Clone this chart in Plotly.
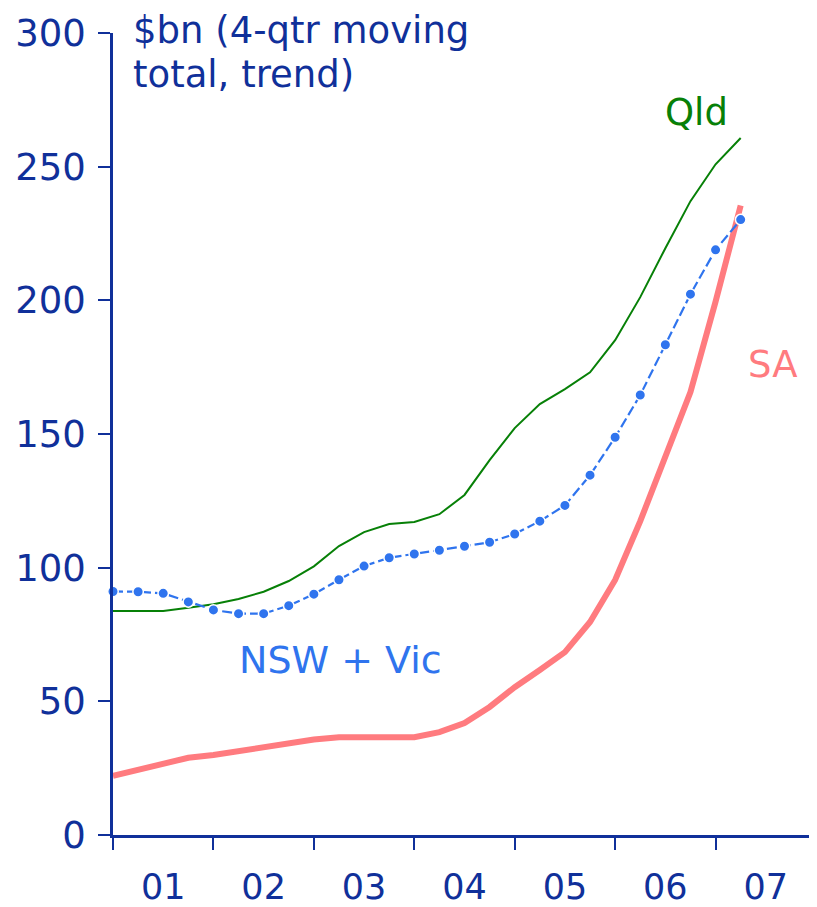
import plotly.graph_objects as go

# quarterly, 2001 Q1 .. 2007 Q2 (x = year + quarter offset)
quarters = [2001 + i * 0.25 for i in range(26)]

nsw_vic = [91.1, 91.0, 90.4, 87.2, 84.2, 82.8, 82.8, 85.8, 90.1, 95.5,
           100.6, 103.7, 105.1, 106.5, 108.0, 109.5, 112.6, 117.4, 123.3, 134.6,
           148.8, 164.6, 183.4, 202.3, 218.9, 230.2]
qld = [83.8, 83.8, 83.8, 85.0, 86.3, 88.3, 91.0, 95.0, 100.5, 108.1,
       113.3, 116.3, 117.1, 120.0, 127.2, 140.2, 152.2, 161.2, 166.8, 173.1,
       185.1, 201.2, 219.5, 237.1, 250.9, 260.7]
sa = [22.1, 24.4, 26.6, 28.9, 29.9, 31.4, 32.9, 34.4, 35.7, 36.6,
      36.6, 36.6, 36.6, 38.5, 41.9, 47.9, 55.3, 61.7, 68.4, 79.7,
      95.4, 117.4, 141.4, 165.7, 199.5, 235.5]

year_labels = ["01", "02", "03", "04", "05", "06", "07"]
year_mids = [2001.5 + i for i in range(7)]
year_edges = [2001 + i for i in range(8)]
y_ticks = [0, 50, 100, 150, 200, 250, 300]

NAVY = "#10309A"
GREEN = "#078007"
BLUE = "#2F74EE"
RED = "#FF7B7F"
FONT = "Verdana, DejaVu Sans, sans-serif"

fig = go.Figure()

fig.add_trace(go.Scatter(
    x=quarters, y=qld, mode="lines", name="Qld",
    line=dict(color=GREEN, width=2), cliponaxis=False,
))
fig.add_trace(go.Scatter(
    x=quarters, y=sa, mode="lines", name="SA",
    line=dict(color=RED, width=6), cliponaxis=False,
))
fig.add_trace(go.Scatter(
    x=quarters, y=nsw_vic, mode="lines+markers", name="NSW + Vic",
    line=dict(color=BLUE, width=2.2, dash="10px,4px"),
    marker=dict(color=BLUE, size=10.5, line=dict(color="white", width=1.5)),
    cliponaxis=False,
))

# series labels and unit note
fig.add_annotation(x=2006.81, y=270.4, text="Qld", showarrow=False,
                   font=dict(color=GREEN, size=37, family=FONT))
fig.add_annotation(x=2003.27, y=65.4, text="NSW + Vic", showarrow=False,
                   font=dict(color=BLUE, size=38, family=FONT))
fig.add_annotation(x=2007.57, y=176.1, text="SA", showarrow=False,
                   font=dict(color=RED, size=37, family=FONT))
fig.add_annotation(x=2001.18, y=1.0, yref="paper", yshift=3,
                   text="$bn (4-qtr moving", showarrow=False,
                   xanchor="left", yanchor="middle",
                   font=dict(color=NAVY, size=37, family=FONT))
fig.add_annotation(x=2001.18, y=1.0, yref="paper", yshift=-41,
                   text="total, trend)", showarrow=False,
                   xanchor="left", yanchor="middle",
                   font=dict(color=NAVY, size=37, family=FONT))

# page body adds an 8px margin, so the figure is 8px smaller than the window
fig.update_layout(
    width=809, height=899,
    margin=dict(l=105, r=1, t=25, b=72),
    plot_bgcolor="white", paper_bgcolor="white",
    showlegend=False,
    font=dict(family=FONT, color=NAVY, size=36),
    xaxis=dict(
        range=[2001, 2008], tickmode="array",
        tickvals=year_mids, ticktext=year_labels, ticks="",
        ticklabelstandoff=19, automargin=False,
        minor=dict(tickmode="array", tickvals=year_edges, ticks="outside",
                   ticklen=12, tickwidth=2, tickcolor=NAVY, showgrid=False),
        showline=True, linecolor=NAVY, linewidth=2.5,
        showgrid=False, zeroline=False,
        tickfont=dict(size=35, color=NAVY),
    ),
    yaxis=dict(
        range=[0, 300], tickmode="array", tickvals=y_ticks,
        ticks="outside", ticklen=12, tickwidth=2, tickcolor=NAVY,
        ticklabelstandoff=5, automargin=False,
        showline=True, linecolor=NAVY, linewidth=2.5,
        showgrid=False, zeroline=False,
        tickfont=dict(size=37, color=NAVY),
    ),
)

fig.write_html("out.html")
